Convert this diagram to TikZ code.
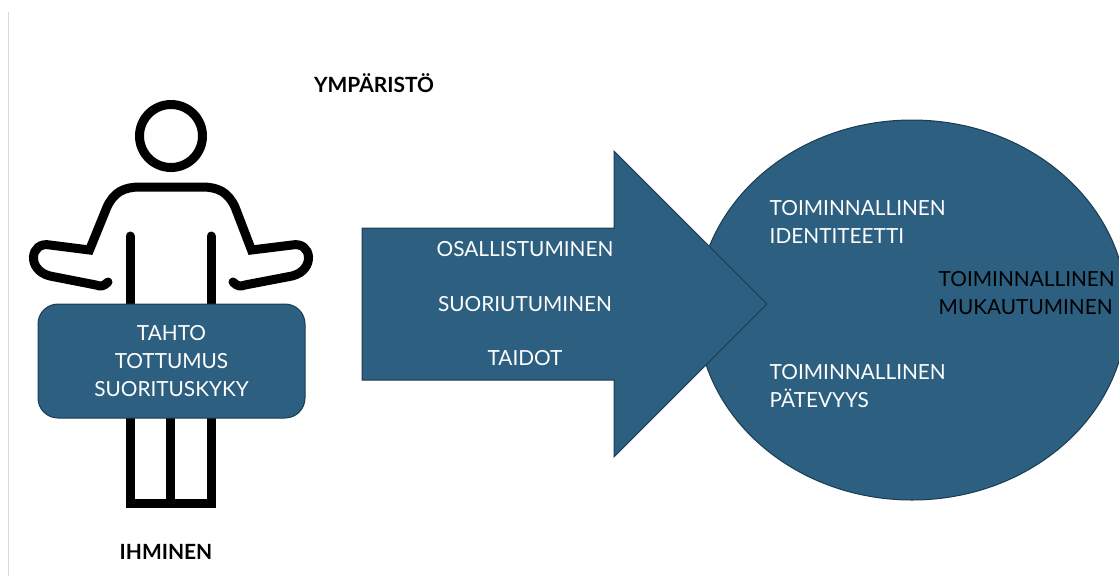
\documentclass[tikz,border=0pt]{standalone}
\usepackage{fontspec}
\setmainfont{Lato}
\usetikzlibrary{shapes.geometric}
\definecolor{petrol}{HTML}{2C5F80}
\definecolor{petroledge}{HTML}{1B3B50}
\tikzset{l/.style={font=\fontsize{15.6}{21}\selectfont,align=left,anchor=west}}
\tikzset{w/.style={l,text=white}}
\tikzset{c/.style={font=\fontsize{15.6}{21}\selectfont,align=center,text=white}}
\tikzset{b/.style={font=\fontsize{15.7}{21}\selectfont\bfseries,text=black}}
\tikzset{limb/.style={black,line width=6.75pt,line cap=round,line join=miter}}
\tikzset{leg/.style={black,line width=6.75pt,line cap=butt,line join=miter}}
\tikzset{blue shape/.style={fill=petrol,draw=petroledge,line width=0.75pt}}

\begin{document}
\begin{tikzpicture}[x=0.75pt,y=-0.75pt]
            \useasboundingbox (0,0) rectangle (1119,576);
            \clip (0,0) rectangle (1119,576);
            \draw[black!15,line width=0.9pt] (8.5,12) -- (8.5,576);
            % circle and arrow
            \node[ellipse,blue shape,minimum width=322.5pt,minimum height=285pt,inner sep=0pt] (Circle) at (912,310) {};
            \filldraw[blue shape,line join=miter] (362,228)--(614,228)--(614,151)--(767,304)--(614,457)--(614,380)--(362,380)--cycle;
            % person
            \node[circle,draw=black,line width=6.75pt,minimum size=47.25pt,inner sep=0pt] (Head) at (171,136) {};
            \draw[limb] (108,282) .. controls (104,286) and (101,287) .. (96,285)
              -- (50,276) .. controls (26,270) and (30,241) .. (50,245)
              -- (89.5,250) -- (107,207) .. controls (114,192) and (124,187) .. (140,187)
              -- (202,187) .. controls (218,187) and (228,192) .. (235,207)
              -- (251.5,250) -- (292,245) .. controls (312,241) and (316,270) .. (292,276)
              -- (245,285) .. controls (240,287) and (237,286) .. (233,282);
            \draw[limb] (130,236) -- (130,310);
            \draw[limb] (211,236) -- (211,310);
            \draw[leg] (130,410) -- (130,503) -- (211,503) -- (211,410);
            \draw[leg] (170.5,410) -- (170.5,503);
            \node[rectangle,blue shape,rounded corners=15pt,minimum width=200.25pt,minimum height=85.5pt,inner sep=0pt,c] (Abilities) at (171.5,361) {TAHTO\\TOTTUMUS\\SUORITUSKYKY};
            % labels
            \node[b] (Env) at (374,83) {YMPÄRISTÖ};
            \node[b] (Person) at (166,552) {IHMINEN};
            \node[c] (Part) at (525,249) {OSALLISTUMINEN};
            \node[c] (Perf) at (525,304) {SUORIUTUMINEN};
            \node[c] (Skill) at (525,358) {TAIDOT};
            \node[w] (Ident) at (765,222) {TOIMINNALLINEN\\IDENTITEETTI};
            \node[w] (Comp) at (765,386) {TOIMINNALLINEN\\PÄTEVYYS};
            \node[l] (Adapt) at (934,293) {TOIMINNALLINEN\\MUKAUTUMINEN};
          \end{tikzpicture}
\end{document}
